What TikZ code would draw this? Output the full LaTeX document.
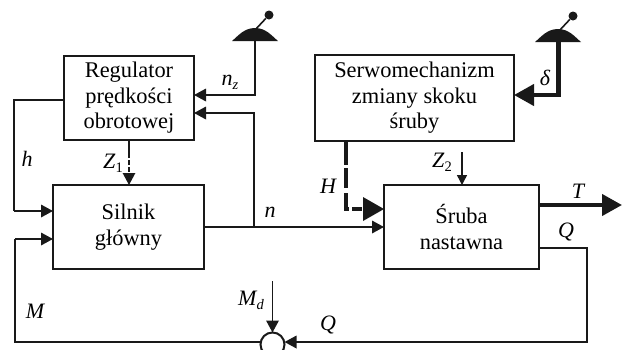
\documentclass[tikz,border=0pt]{standalone}
\usepackage{fontspec}
\setmainfont{Liberation Serif}
\usetikzlibrary{arrows.meta}
\tikzset{
  x=1bp,y=-1bp,
  block/.style={draw=black!90,line width=2bp,inner sep=0pt,outer sep=0pt,align=center,font=\fontsize{22.4bp}{25.5bp}\selectfont,anchor=north west},
  sig/.style={draw=black!90,line width=1.8bp},
  fat/.style={draw=black!90,line width=4.2bp},
  thintip/.style={-{Triangle[length=12bp,width=12.5bp]}},
  midtip/.style={-{Triangle[length=10bp,width=10bp]}},
  fattip/.style={-{Triangle[length=20bp,width=21bp]}},
  lab/.style={inner sep=0pt,font=\fontsize{22bp}{24bp}\selectfont\itshape},
  knob/.style={fill=black!90,draw=none},
  lever/.style={draw=black!90,line width=1.6bp},
}
\newcommand{\subs}[1]{\raisebox{-4bp}{\fontsize{14.5bp}{15bp}\selectfont #1}}
\newcommand{\throttle}[2]{%
  \fill[black!90] (#1-23,#2+13) .. controls (#1-17,#2+8) and (#1-11,#2) .. (#1,#2) .. controls (#1+11,#2) and (#1+17,#2+8) .. (#1+23,#2+13) -- cycle;
}
\begin{document}
\begin{tikzpicture}
\useasboundingbox (0,0) rectangle (624,349);
\clip (0,0) rectangle (624,349);
\node[block,minimum width=130bp,minimum height=84bp] (reg) at (64,56) {Regulator\\prędkości\\obrotowej};
\node[block,minimum width=199bp,minimum height=86bp] (ser) at (315,55) {Serwomechanizm\\zmiany skoku\\śruby};
\node[block,minimum width=151bp,minimum height=84bp] (sil) at (53,185) {Silnik\\główny};
\node[block,minimum width=155bp,minimum height=84bp] (sru) at (384,185) {Śruba\\nastawna};
\node[draw=black!90,line width=2bp,circle,minimum size=24bp,inner sep=0pt,outer sep=0pt] (sum) at (272.5,344.5) {};

% levers
\throttle{255}{28}
\throttle{558}{29}
\coordinate (kna) at (255,41);
\coordinate (knb) at (558.5,42);
\node[knob,circle,minimum size=9bp,inner sep=0pt] (ba) at (269,15) {};
\node[knob,circle,minimum size=9bp,inner sep=0pt] (bb) at (573,16) {};
\coordinate (ta) at (255,30);
\coordinate (tb) at (559,31);
\draw[lever] (ta) -- (ba);
\draw[lever] (tb) -- (bb);

% signals
\coordinate (nzk) at (kna |- 0,95);
\draw[sig,thintip] (kna) -- (nzk) -- (reg.east |- nzk);
\coordinate (j) at (254,227);
\coordinate (jt) at (254,113);
\draw[sig,thintip] (j) -- (jt) -- (reg.east |- jt);
\coordinate (hl) at (14,100);
\coordinate (hb) at (14,211);
\draw[sig] (reg.west |- hl) -- (hl) -- (hb);
\draw[sig,thintip] (hb) -- (sil.west |- hb);
\coordinate (ml) at (15,342);
\coordinate (mt) at (15,239);
\draw[sig] (sum.west |- ml) -- (ml) -- (mt);
\draw[sig,thintip] (mt) -- (sil.west |- mt);
\draw[sig,thintip] (sil.east |- j) -- (sru.west |- j);
\coordinate (z1m) at (129,153);
\draw[sig] (reg.south -| z1m) -- (z1m);
\draw[sig,dash pattern=on 5bp off 2bp,shorten >=10bp] (z1m) -- (sil.north -| z1m);
\draw[sig,thintip,line width=1.2bp] (129,173) -- (sil.north -| z1m);
\coordinate (mdt) at (272.5,281);
\draw[sig,thintip] (mdt) -- (sum.north);
\coordinate (z2t) at (462,152);
\draw[sig,line width=1.4bp,midtip] (z2t) -- (sru.north -| z2t);
\coordinate (qt) at (587,248);
\coordinate (qb) at (587,342);
\draw[sig] (sru.east |- qt) -- (qt) -- (qb) -- (300,342);
\draw[sig,thintip] (300,342) -- (sum.east |- qb);
\coordinate (tt) at (622,205);
\draw[fat,fattip] (sru.east |- tt) -- (tt);
\coordinate (dk) at (558.5,95);
\draw[fat,line cap=butt] (knb) -- (dk) -- (530,95);
\draw[fat,fattip] (534,95) -- (ser.east |- dk);
\coordinate (hm) at (346,209);
\draw[fat,dash pattern=on 24bp off 3bp on 20bp off 5bp on 19bp off 3bp on 11bp off 10bp] (ser.south -| hm) -- (hm) -- (362,209);
\fill[black!90] (363,197) -- (sru.west |- hm) -- (363,221) -- cycle;

% labels
\node[lab] (nz) at (230,82) {n\subs{z}};
\node[lab] (dl) at (545,78) {δ};
\node[lab] (h) at (27,159) {h};
\node[lab,font=\fontsize{22bp}{24bp}\selectfont] (z1) at (113,163) {\textit{Z}\subs{1}};
\node[lab,font=\fontsize{22bp}{24bp}\selectfont] (z2) at (442,162) {\textit{Z}\subs{2}};
\node[lab] (n) at (270,212) {n};
\node[lab] (H) at (328,186) {H};
\node[lab] (T) at (578,191) {T};
\node[lab] (Q1) at (566,232) {Q};
\node[lab] (Q2) at (328,325) {Q};
\node[lab] (M) at (35,311) {M};
\node[lab] (Md) at (251,300) {M\subs{d}};
\end{tikzpicture}
\end{document}
